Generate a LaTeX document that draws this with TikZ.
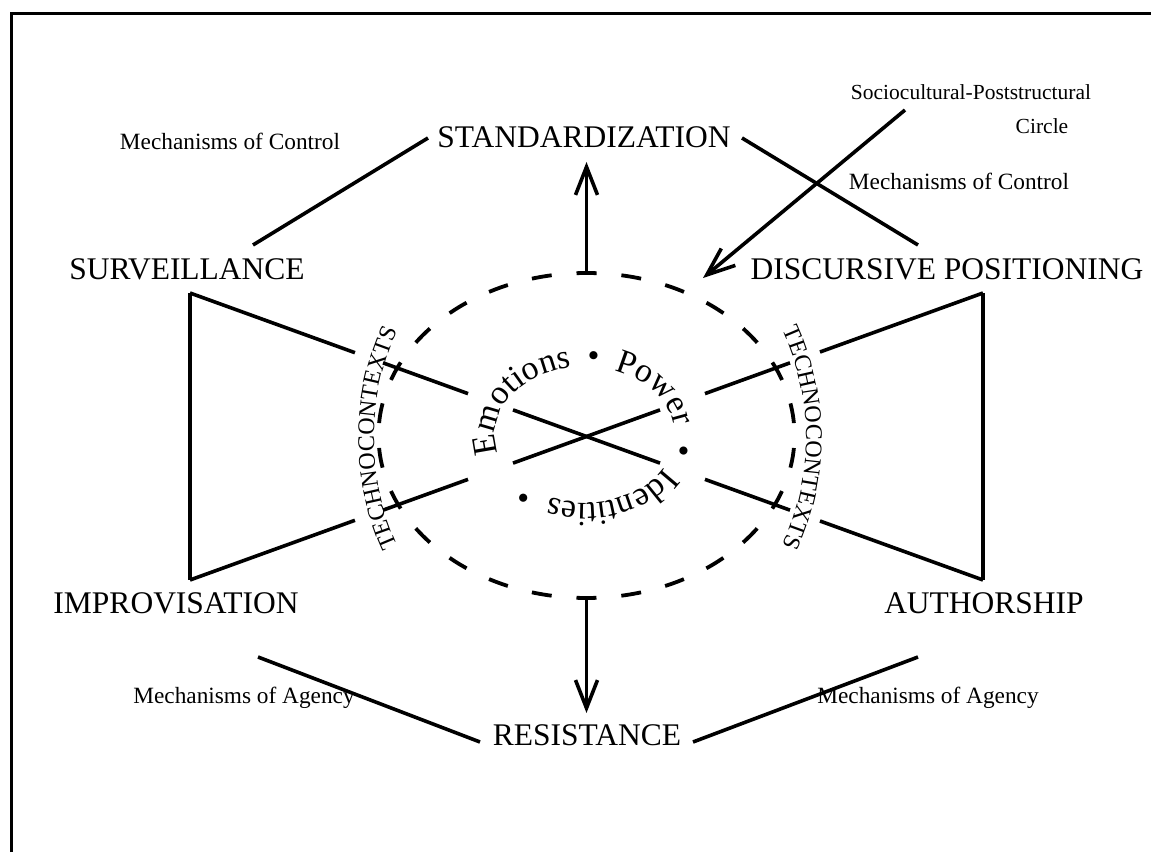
\documentclass[tikz,border=0pt]{standalone}
\usepackage{fontspec}
\setmainfont{Liberation Serif}
\usetikzlibrary{calc,arrows.meta,decorations.text}
\begin{document}
\begin{tikzpicture}[x=1pt,y=1pt,
  big/.style={font=\fontsize{31.5}{36}\selectfont, inner sep=0pt, anchor=base},
  small/.style={font=\fontsize{23.3}{27}\selectfont, inner sep=0pt, anchor=base},
  smaller/.style={font=\fontsize{21.5}{25}\selectfont, inner sep=0pt, anchor=base},
  ln/.style={line width=3.6pt},
  arr/.style={line width=3.6pt, -{Straight Barb[length=28pt,width=22pt]}},
]
\useasboundingbox (0,0) rectangle (1151,852);
\draw[line width=3pt] (11.3,0) -- (11.3,838.3) -- (1151,838.3);

% labels
\node[big] (std) at (584,704) {STANDARDIZATION};
\node[big] (sur) at (187,572) {SURVEILLANCE};
\node[big] (dis) at (947,572) {DISCURSIVE POSITIONING};
\node[big] (imp) at (176,239) {IMPROVISATION};
\node[big] (aut) at (984,239) {AUTHORSHIP};
\node[big] (res) at (587,107) {RESISTANCE};
\node[small] (mcl) at (230,702) {Mechanisms of Control};
\node[small] (mcr) at (959,662) {Mechanisms of Control};
\node[smaller] (soc) at (971,752) {Sociocultural-Poststructural};
\node[smaller] (cir) at (1042,718) {Circle};
\node[small] (mal) at (244,149) {Mechanisms of Agency};
\node[small] (mar) at (928,149) {Mechanisms of Agency};

% connector ends
\coordinate (std-l) at (428,714);
\coordinate (std-r) at (742,714);
\coordinate (sur-t) at (253,607);
\coordinate (dis-t) at (918,607);
\coordinate (imp-b) at (258,195);
\coordinate (aut-b) at (918,195);
\coordinate (res-l) at (480,110);
\coordinate (res-r) at (693,110);
\coordinate (soc-s) at (905,742);
\coordinate (soc-e) at (703,574);
\coordinate (ell-top) at (586.5,579);
\coordinate (ell-bot) at (586.5,254);
\coordinate (up-tip) at (586.5,690);
\coordinate (dn-tip) at (586.5,139);

\draw[ln] (std-l) -- (sur-t);
\draw[ln] (std-r) -- (dis-t);
\draw[ln] (imp-b) -- (res-l);
\draw[ln] (aut-b) -- (res-r);
\draw[arr] (soc-s) -- (soc-e);
\draw[arr] (ell-top) -- (up-tip);
\draw[arr] (ell-bot) -- (dn-tip);

% bowtie
\coordinate (TL) at (190,559);
\coordinate (BL) at (190,272);
\coordinate (TR) at (983,559);
\coordinate (BR) at (983,272);
\draw[ln] (TL) -- (BL);
\draw[ln] (TR) -- (BR);
\foreach \a/\b in {0/0.208, 0.2434/0.3506, 0.4073/0.5927, 0.6494/0.7566, 0.7944/1}{
  \draw[ln] ($(TL)!\a!(BR)$) -- ($(TL)!\b!(BR)$);
  \draw[ln] ($(BL)!\a!(TR)$) -- ($(BL)!\b!(TR)$);
}

% dashed ellipse
\draw[line width=3.8pt, dash pattern=on 20pt off 24.94pt, dash phase=10pt]
  (ell-top) arc[start angle=90, end angle=450, x radius=208, y radius=162.5];

% ring text
\coordinate (ring) at (585,417);
\path[decorate, decoration={text along path,
   text={|\fontsize{34}{38}\selectfont|Emotions • Power • Identities •},
   text align={fit to path stretching spaces}}]
  ([shift={(196:90 and 68)}]ring) arc[start angle=196, end angle=-132, x radius=90, y radius=68];

% technocontexts
\coordinate (tcl) at (634,414);
\coordinate (tcr) at (546,414);
\path[decorate, decoration={text along path,
   text={|\fontsize{24}{28}\selectfont|TECHNOCONTEXTS}, text align=center}]
  ([shift={(205:260)}]tcl) arc[start angle=205, end angle=155, radius=260];
\path[decorate, decoration={text along path,
   text={|\fontsize{24}{28}\selectfont|TECHNOCONTEXTS}, text align=center}]
  ([shift={(25:260)}]tcr) arc[start angle=25, end angle=-25, radius=260];
\end{tikzpicture}
\end{document}
